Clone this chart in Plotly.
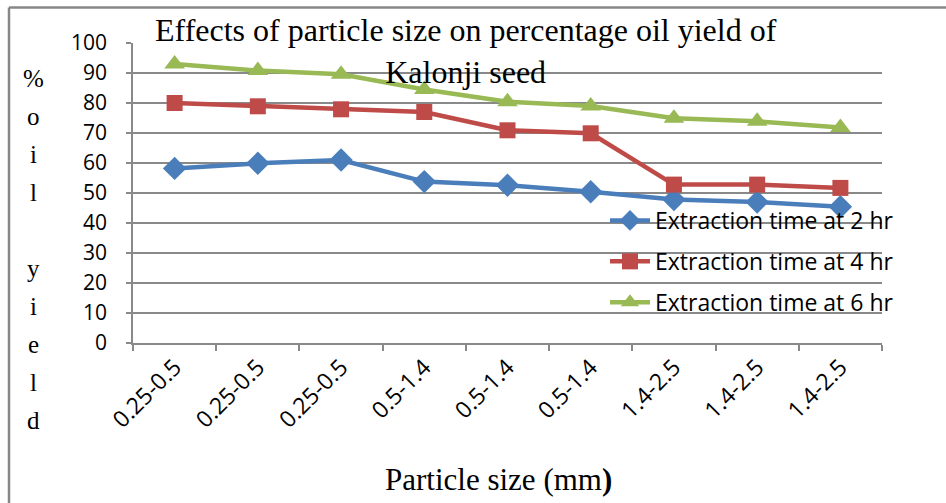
import plotly.graph_objects as go

categories = ["0.25-0.5", "0.25-0.5", "0.25-0.5", "0.5-1.4", "0.5-1.4", "0.5-1.4", "1.4-2.5", "1.4-2.5", "1.4-2.5"]
yield_2hr = [58.2, 59.9, 61.0, 53.8, 52.6, 50.4, 47.8, 47.0, 45.4]
yield_4hr = [80.0, 78.9, 77.9, 77.0, 70.9, 69.9, 52.8, 52.8, 51.7]
yield_6hr = [93.0, 90.8, 89.6, 84.5, 80.4, 79.0, 74.9, 73.9, 71.8]
series_names = ["Extraction time at 2 hr", "Extraction time at 4 hr", "Extraction time at 6 hr"]
y_letters = ["%", "o", "i", "l", "", "y", "i", "e", "l", "d"]

W, H = 946, 503
L, R, T, B = 133, 882, 43, 343
pw, ph = R - L, B - T

def px_to_paper_x(px):
    return (px - L) / pw

def px_to_paper_y(py):
    return (B - py) / ph

xs = list(range(len(categories)))

fig = go.Figure()
specs = [
    (yield_2hr, "#4A7EBB", "diamond", 18),
    (yield_4hr, "#BE4B48", "square", 16),
    (yield_6hr, "#98B954", "triangle-up", 18),
]
for i, (vals, col, sym, sz) in enumerate(specs):
    fig.add_trace(go.Scatter(
        x=xs, y=vals, mode="lines+markers", name=series_names[i],
        legendgroup=f"g{i}",
        line=dict(color=col, width=4.5),
        marker=dict(symbol=sym, size=sz, color=col, line=dict(width=0)),
    ))

grid_col = "#898989"
fig.update_layout(
    width=W, height=H,
    margin=dict(l=L, r=W - R, t=T, b=H - B, pad=0),
    paper_bgcolor="white", plot_bgcolor="white",
    showlegend=True,
    legend=dict(
        x=px_to_paper_x(605), y=px_to_paper_y(199), xanchor="left", yanchor="top",
        bgcolor="rgba(0,0,0,0)", font=dict(family="Open Sans", size=23, color="black"),
        tracegroupgap=8, itemwidth=40,
    ),
    xaxis=dict(
        range=[-0.5, 8.5], tickmode="array", tickvals=xs, ticktext=categories,
        tickangle=-45, ticks="", showgrid=False, zeroline=False,
        showline=True, linecolor=grid_col, linewidth=1.5,
        tickfont=dict(family="Open Sans", size=23, color="black"),
        minor=dict(ticks="outside", tick0=-0.5, dtick=1, ticklen=6, tickcolor=grid_col, tickwidth=1.5, showgrid=False),
    ),
    yaxis=dict(
        range=[0, 100], dtick=10, ticks="outside", ticklen=5, tickcolor=grid_col, tickwidth=1.5,
        showgrid=True, gridcolor=grid_col, gridwidth=1.5, zeroline=False,
        showline=True, linecolor=grid_col, linewidth=1.5, ticklabelstandoff=15,
        tickfont=dict(family="Open Sans", size=21, color="black"),
    ),
)

annotations = [
    dict(text="Effects of particle size on percentage oil yield of<br>Kalonji seed",
         x=px_to_paper_x(466), y=px_to_paper_y(51), xref="paper", yref="paper",
         xanchor="center", yanchor="middle", showarrow=False,
         font=dict(family="Liberation Serif", size=32, color="black")),
    dict(text="Particle size (mm<b>)</b>",
         x=px_to_paper_x(498), y=px_to_paper_y(480), xref="paper", yref="paper",
         xanchor="center", yanchor="middle", showarrow=False,
         font=dict(family="Liberation Serif", size=31, color="black")),
]
for k, ch in enumerate(y_letters):
    if not ch:
        continue
    annotations.append(dict(
        text=ch, x=px_to_paper_x(33), y=px_to_paper_y(78 + 38.1 * k),
        xref="paper", yref="paper", xanchor="center", yanchor="middle", showarrow=False,
        font=dict(family="Liberation Serif", size=25, color="black")))
fig.update_layout(annotations=annotations)

fig.update_layout(shapes=[
    dict(type="line", xref="paper", yref="paper", x0=px_to_paper_x(9), x1=px_to_paper_x(950),
         y0=px_to_paper_y(7.5), y1=px_to_paper_y(7.5), line=dict(color="#878787", width=2.5)),
    dict(type="line", xref="paper", yref="paper", x0=px_to_paper_x(9), x1=px_to_paper_x(9),
         y0=px_to_paper_y(7.5), y1=px_to_paper_y(510), line=dict(color="#878787", width=2.5)),
])

fig.write_html("out.html")
